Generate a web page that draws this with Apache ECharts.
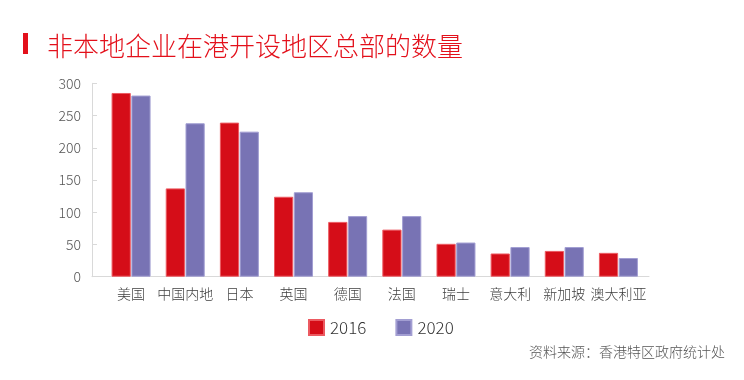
<!DOCTYPE html>
<html>
<head>
<meta charset="utf-8">
<script src="https://cdn.jsdelivr.net/npm/echarts@6/dist/echarts.min.js"></script>
<style>html,body{margin:0;padding:0;background:#fff}#c{width:744px;height:380px}</style>
</head>
<body>
<div id="c"></div>
<script>
const categories = ['美国','中国内地','日本','英国','德国','法国','瑞士','意大利','新加坡','澳大利亚'];
const values2016 = [285, 137, 239, 124, 85, 73, 51, 36, 40, 37];
const values2020 = [281, 238, 225, 131, 94, 94, 53, 46, 46, 29];
const seriesNames = ['2016', '2020'];
const yTicks = { min: 0, max: 300, interval: 50 };
const titleText = '非本地企业在港开设地区总部的数量';
const sourceText = '资料来源：香港特区政府统计处';

const FONT = '"Noto Sans CJK SC", "Noto Sans", sans-serif';
const W = 300;
const chart = echarts.init(document.getElementById('c'), null, {renderer: 'canvas'});
chart.setOption({
  animation: false,
  backgroundColor: '#fff',
  textStyle: { fontFamily: FONT, fontWeight: W },
  title: {
    text: titleText, left: 42, top: 28,
    textStyle: { color: '#e3101b', fontSize: 26, fontWeight: W, fontFamily: FONT }
  },
  graphic: [
    { type: 'rect', left: 23, top: 33, shape: { width: 5, height: 21 }, style: { fill: '#e3101b' } },
    { type: 'text', right: 19, top: 345, style: { text: sourceText, fill: '#555', font: W + ' 14px ' + FONT } }
  ],
  legend: {
    left: 303, top: 314, itemWidth: 15, itemHeight: 15, itemGap: 29, icon: 'rect',
    textStyle: { fontSize: 17, color: '#333', fontFamily: FONT, fontWeight: W, padding: [0, 0, 0, 1] },
    data: seriesNames
  },
  grid: [
    { left: 104, right: 98.5, top: 83.3, bottom: 103.3 },
    { left: 92, right: 95, top: 83.3, bottom: 103.3 }
  ],
  xAxis: [
    { type: 'category', gridIndex: 0, data: categories,
      axisLine: { show: false }, axisTick: { show: false },
      axisLabel: { fontSize: 14, color: '#404040', margin: 10, interval: 0, fontFamily: FONT, fontWeight: W } },
    { type: 'value', gridIndex: 1, min: 0, max: 1,
      axisLine: { show: true, onZero: false, lineStyle: { color: '#d9d9d9', width: 1 } },
      axisTick: { show: false }, axisLabel: { show: false }, splitLine: { show: false } }
  ],
  yAxis: [
    { type: 'value', gridIndex: 0, min: yTicks.min, max: yTicks.max, interval: yTicks.interval,
      show: false, splitLine: { show: false } },
    { type: 'value', gridIndex: 1, min: yTicks.min, max: yTicks.max, interval: yTicks.interval,
      axisLine: { show: true, lineStyle: { color: '#d9d9d9', width: 1 } },
      axisTick: { show: true, inside: true, length: 5, lineStyle: { color: '#d9d9d9' } },
      splitLine: { show: false },
      axisLabel: { fontSize: 14, color: '#555', margin: 11, fontFamily: FONT, fontWeight: W } }
  ],
  series: [
    { name: seriesNames[0], type: 'bar', xAxisIndex: 0, yAxisIndex: 0, data: values2016,
      barGap: '3%', barCategoryGap: '28%',
      itemStyle: { color: '#d50d18', borderColor: '#ec5a61', borderWidth: 1 } },
    { name: seriesNames[1], type: 'bar', xAxisIndex: 0, yAxisIndex: 0, data: values2020,
      barGap: '3%', barCategoryGap: '28%',
      itemStyle: { color: '#7873b4', borderColor: '#a29ed2', borderWidth: 1 } }
  ]
});
</script>
</body>
</html>
